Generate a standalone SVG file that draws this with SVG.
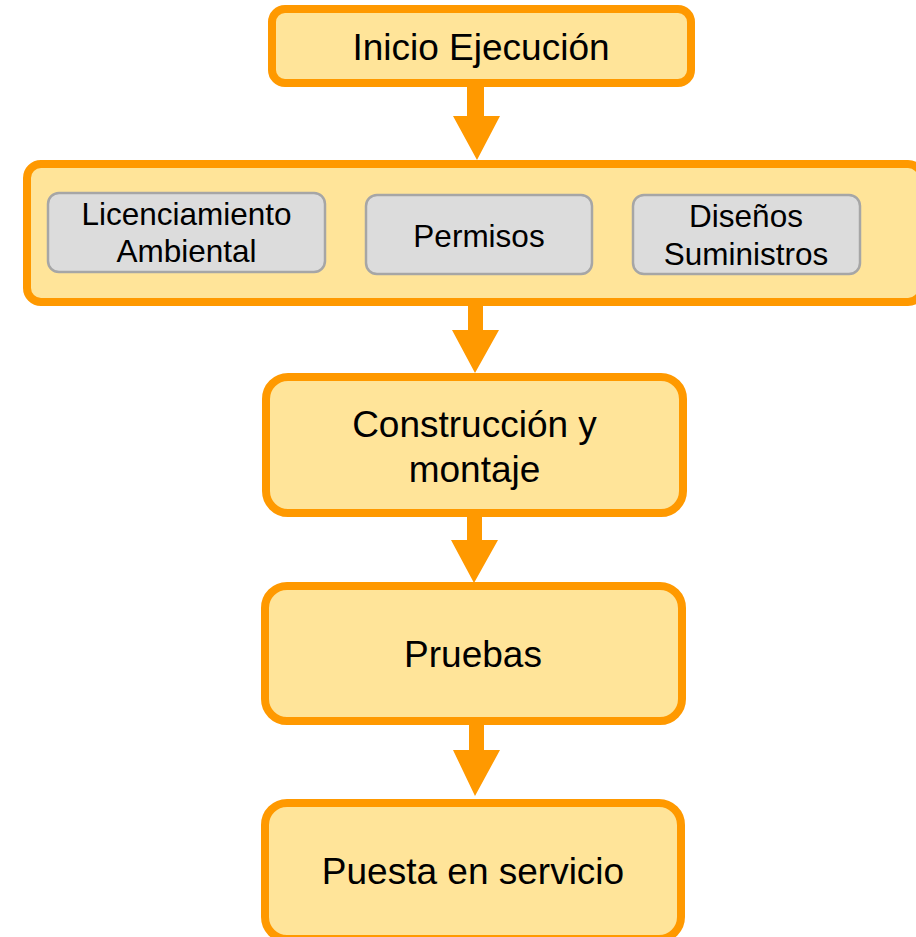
<svg xmlns="http://www.w3.org/2000/svg" width="916" height="937" viewBox="0 0 916 937">
<style>
.main{fill:#FFE499;stroke:#FF9900;stroke-width:8}
.sub{fill:#DCDCDC;stroke:#A6A6A6;stroke-width:2.5}
.arrow{fill:#FF9900}
text{font-family:"Liberation Sans",Arial,sans-serif;fill:#000;text-anchor:middle}
.t1{font-size:37px}
.t2{font-size:31.5px}
</style>
<rect width="916" height="937" fill="#fff"/>
<g id="connectors">
<polygon class="arrow" points="467,86 484,86 484,116 500,116 477,160 453,116 467,116"/>
<polygon class="arrow" points="468,305 483,305 483,330 499,330 475,373 452,330 468,330"/>
<polygon class="arrow" points="467,516 482,516 482,540 498,540 474,583 451,540 467,540"/>
<polygon class="arrow" points="469,724 484,724 484,750 500,750 475,796 453,750 469,750"/>
</g>
<g id="inicio">
<rect class="main" x="272" y="9" width="419" height="74" rx="13"/>
<text class="t1" x="481" y="60">Inicio Ejecución</text>
</g>
<g id="fase-previa">
<rect class="main" x="27" y="164" width="895" height="138" rx="14"/>
</g>
<g id="licenciamiento">
<rect class="sub" x="48" y="193" width="277" height="79" rx="11"/>
<text class="t2" x="186.5" y="225">Licenciamiento</text>
<text class="t2" x="186.5" y="262">Ambiental</text>
</g>
<g id="permisos">
<rect class="sub" x="366" y="195" width="226" height="79" rx="11"/>
<text class="t2" x="479" y="247">Permisos</text>
</g>
<g id="disenos">
<rect class="sub" x="633" y="195" width="227" height="79" rx="11"/>
<text class="t2" x="746" y="227">Diseños</text>
<text class="t2" x="746" y="265">Suministros</text>
</g>
<g id="construccion">
<rect class="main" x="266" y="377" width="417" height="136" rx="22"/>
<text class="t1" x="474.5" y="437">Construcción y</text>
<text class="t1" x="474.5" y="482">montaje</text>
</g>
<g id="pruebas">
<rect class="main" x="265" y="586" width="417" height="135" rx="22"/>
<text class="t1" x="473" y="667">Pruebas</text>
</g>
<g id="puesta">
<rect class="main" x="265" y="803" width="416" height="136" rx="22"/>
<text class="t1" x="473" y="884">Puesta en servicio</text>
</g>
</svg>
